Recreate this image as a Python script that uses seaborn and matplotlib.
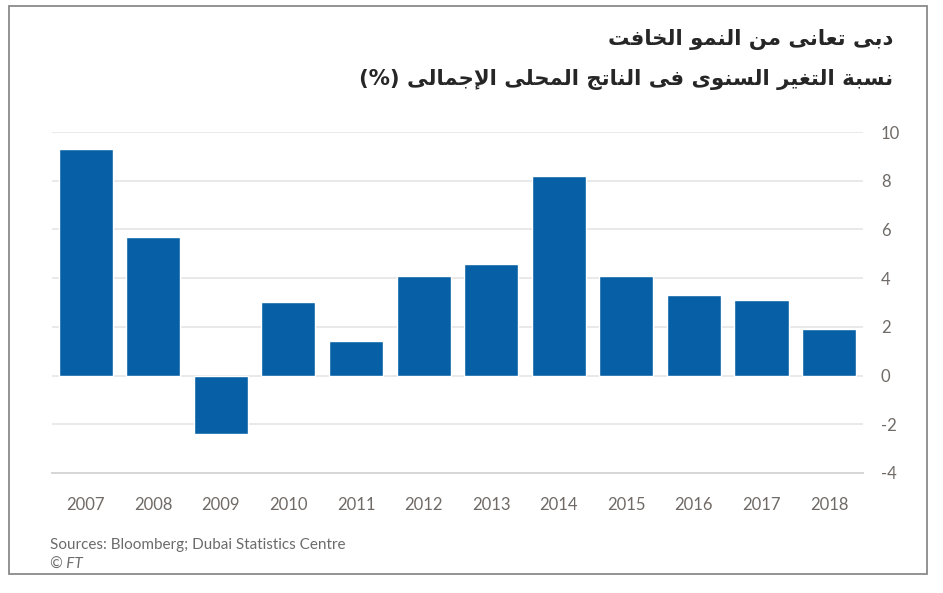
import matplotlib
matplotlib.use("Agg")
import matplotlib.pyplot as plt
from matplotlib.patches import Rectangle
import seaborn as sns
import pandas as pd

# ---- data ----
years = ["2007", "2008", "2009", "2010", "2011", "2012",
         "2013", "2014", "2015", "2016", "2017", "2018"]
growth = [9.3, 5.7, -2.4, 3.0, 1.4, 4.1, 4.6, 8.2, 4.1, 3.3, 3.1, 1.9]
y_ticks = [-4, -2, 0, 2, 4, 6, 8, 10]

title_line1 = "دبى تعانى من النمو الخافت"
title_line2 = "نسبة التغير السنوى فى الناتج المحلى الإجمالى (%)"
source_text = "Sources: Bloomberg; Dubai Statistics Centre"
credit_text = "© FT"

# ---- minimal Arabic shaping (matplotlib has no complex text layout) ----
FORMS = {
    '\u0627': ('\uFE8D', '\uFE8E', None, None),
    '\u0625': ('\uFE87', '\uFE88', None, None),
    '\u0623': ('\uFE83', '\uFE84', None, None),
    '\u0628': ('\uFE8F', '\uFE90', '\uFE91', '\uFE92'),
    '\u0629': ('\uFE93', '\uFE94', None, None),
    '\u062A': ('\uFE95', '\uFE96', '\uFE97', '\uFE98'),
    '\u062C': ('\uFE9D', '\uFE9E', '\uFE9F', '\uFEA0'),
    '\u062D': ('\uFEA1', '\uFEA2', '\uFEA3', '\uFEA4'),
    '\u062E': ('\uFEA5', '\uFEA6', '\uFEA7', '\uFEA8'),
    '\u062F': ('\uFEA9', '\uFEAA', None, None),
    '\u0631': ('\uFEAD', '\uFEAE', None, None),
    '\u0633': ('\uFEB1', '\uFEB2', '\uFEB3', '\uFEB4'),
    '\u0639': ('\uFEC9', '\uFECA', '\uFECB', '\uFECC'),
    '\u063A': ('\uFECD', '\uFECE', '\uFECF', '\uFED0'),
    '\u0641': ('\uFED1', '\uFED2', '\uFED3', '\uFED4'),
    '\u0644': ('\uFEDD', '\uFEDE', '\uFEDF', '\uFEE0'),
    '\u0645': ('\uFEE1', '\uFEE2', '\uFEE3', '\uFEE4'),
    '\u0646': ('\uFEE5', '\uFEE6', '\uFEE7', '\uFEE8'),
    '\u0648': ('\uFEED', '\uFEEE', None, None),
    '\u0649': ('\uFEEF', '\uFEF0', None, None),
    '\u064A': ('\uFEF1', '\uFEF2', '\uFEF3', '\uFEF4'),
}
LAM_ALEF = {'\u0627': ('\uFEFB', '\uFEFC'), '\u0625': ('\uFEF9', '\uFEFA'),
            '\u0623': ('\uFEF7', '\uFEF8'), '\u0622': ('\uFEF5', '\uFEF6')}


def shape_rtl(text):
    units = []
    i = 0
    while i < len(text):
        c = text[i]
        if c == '\u0644' and i + 1 < len(text) and text[i + 1] in LAM_ALEF:
            units.append(('LA', text[i + 1]))
            i += 2
        else:
            units.append(c)
            i += 1

    def is_ar(u):
        return isinstance(u, tuple) or u in FORMS

    def dual(u):
        return (not isinstance(u, tuple)) and u in FORMS and FORMS[u][2] is not None

    out = []
    for k, u in enumerate(units):
        jp = k > 0 and dual(units[k - 1]) and is_ar(u)
        if isinstance(u, tuple):
            out.append(LAM_ALEF[u[1]][1 if jp else 0])
            continue
        if u not in FORMS:
            out.append(u)
            continue
        jn = dual(u) and k + 1 < len(units) and is_ar(units[k + 1])
        iso, fin, ini, med = FORMS[u]
        if jp and jn:
            out.append(med)
        elif jp:
            out.append(fin)
        elif jn:
            out.append(ini)
        else:
            out.append(iso)
    vis = "".join(reversed(out))
    return vis.translate(str.maketrans("()", ")("))


# ---- style ----
sns.set_style("white")
plt.rcParams["font.family"] = ["Lato", "DejaVu Sans"]

fig = plt.figure(figsize=(9.43, 5.93), dpi=100)
fig.patch.set_facecolor("white")
ax = fig.add_axes([0.055, 0.2024, 0.86, 0.575])

df = pd.DataFrame({"year": years, "growth": growth})
sns.barplot(data=df, x="year", y="growth", color="#0760a6", width=0.8,
            saturation=1, ax=ax, zorder=3)

ax.set_ylim(-4, 10)
ax.set_xlim(-0.5, len(years) - 0.5)
ax.set_yticks(y_ticks)
ax.yaxis.tick_right()
ax.set_yticklabels([str(t) for t in y_ticks])
ax.set_xlabel("")
ax.set_ylabel("")

for t in y_ticks:
    if t == -4:
        continue
    ax.axhline(t, color="#e9e9e9", lw=1.4, zorder=1)

for s in ["top", "left", "right"]:
    ax.spines[s].set_visible(False)
ax.spines["bottom"].set_color("#d6d6d6")
ax.spines["bottom"].set_linewidth(1.4)

ax.tick_params(axis="x", which="both", length=12, width=1.2, color="#d6d6d6",
               labelsize=12, labelcolor="#706a66", pad=5, direction="out")
ax.tick_params(axis="y", which="both", length=0, labelsize=12,
               labelcolor="#706a66", pad=13)

# ---- titles ----
fig.text(893 / 943, 1 - 39 / 593, shape_rtl(title_line1), ha="right", va="center",
         fontsize=15.3, fontweight="bold", color="#262626", family=["DejaVu Sans"])
fig.text(893 / 943, 1 - 80 / 593, shape_rtl(title_line2), ha="right", va="center",
         fontsize=15.3, fontweight="bold", color="#262626", family=["DejaVu Sans"])

# ---- footer ----
fig.text(50 / 943, 1 - 545 / 593, source_text, ha="left", va="center",
         fontsize=11, color="#6b6b6b")
fig.text(50 / 943, 1 - 565 / 593, credit_text, ha="left", va="center",
         fontsize=11, color="#6b6b6b", style="italic")

# ---- frame ----
fig.patches.append(Rectangle((9 / 943, 1 - 574 / 593), (927 - 9) / 943, (574 - 6) / 593,
                             transform=fig.transFigure, fill=False,
                             edgecolor="#8a8a8a", lw=1.3, zorder=10))

fig.savefig("out.png", dpi=100, facecolor="white")
